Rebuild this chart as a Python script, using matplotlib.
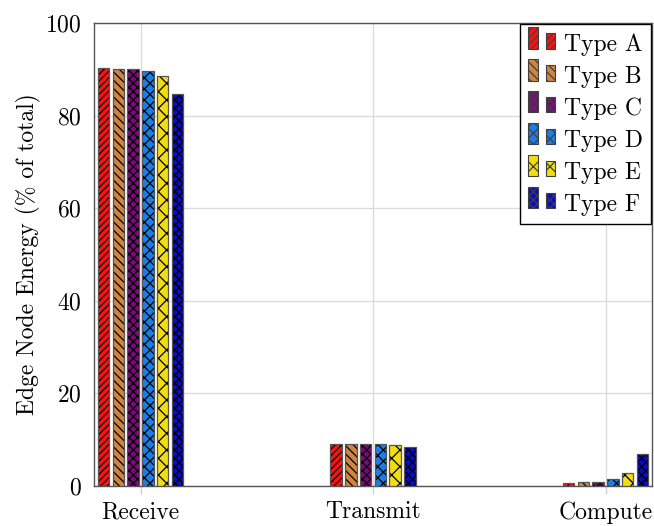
import numpy as np
import matplotlib
matplotlib.use('Agg')
import matplotlib.pyplot as plt
from matplotlib.patches import Rectangle

# energy share per stage, one list per node type
categories = ['Receive', 'Transmit', 'Compute']
types = ['Type A', 'Type B', 'Type C', 'Type D', 'Type E', 'Type F']
type_a = [90.3, 9.1, 0.7]
type_b = [90.1, 9.1, 0.9]
type_c = [90.0, 9.0, 0.9]
type_d = [89.7, 9.0, 1.5]
type_e = [88.5, 8.8, 2.8]
type_f = [84.6, 8.5, 7.0]
series = [type_a, type_b, type_c, type_d, type_e, type_f]

colors = ['#ff1010', '#cf8540', '#7a0a7a', '#1a7fe6', '#f2dc12', '#0a0ac8']
hatches = ['/////', '\\\\\\\\', 'xxxx', 'xxx', 'xx', 'xxxx']

plt.rcParams.update({
    'font.family': 'serif',
    'font.serif': ['cmr10'],
    'mathtext.fontset': 'cm',
    'axes.formatter.use_mathtext': True,
    'font.size': 17,
    'hatch.linewidth': 0.9,
    'hatch.color': 'black',
})


class TwoBars:
    """legend entry drawn as two little bars, like a ybar legend"""
    def __init__(self, color, hatch):
        self.color = color
        self.hatch = hatch

    def legend_artist(self, legend, orig_handle, fontsize, handlebox):
        x0, y0 = handlebox.xdescent, handlebox.ydescent
        w, h = handlebox.width, handlebox.height
        bw = w * 0.36
        tr = handlebox.get_transform()
        r1 = Rectangle((x0, y0), bw, h, facecolor=self.color, hatch=self.hatch,
                       edgecolor='#404040', linewidth=0.8, transform=tr)
        r2 = Rectangle((x0 + w - bw, y0), bw, h * 0.72, facecolor=self.color,
                       hatch=self.hatch, edgecolor='#404040', linewidth=0.8, transform=tr)
        handlebox.add_artist(r1)
        handlebox.add_artist(r2)
        return r1


fig = plt.figure(figsize=(6.54, 5.26), dpi=100)
ax = fig.add_axes([94/654, 1 - 486/526, (652 - 94)/654, (486 - 23)/526])

x = np.arange(len(categories))
slot = 0.0635
width = 0.05
handles = []
for i, (vals, c, h) in enumerate(zip(series, colors, hatches)):
    pos = x + (i - 2.5) * slot
    ax.bar(pos, vals, width, color=c, hatch=h, edgecolor='black', linewidth=0, zorder=3)
    ax.bar(pos, vals, width, fill=False, edgecolor='#555555', linewidth=0.9, zorder=4)
    handles.append(TwoBars(c, h))

ax.set_xlim(-0.2, 2.2)
ax.set_ylim(0, 100)
ax.set_xticks(x)
ax.set_xticklabels(categories)
ax.set_yticks(np.arange(0, 101, 20))
ax.tick_params(axis='y', length=0, pad=9)
ax.tick_params(axis='x', length=6, width=1, color='#d0d0d0', direction='out', pad=5)
ax.grid(True, color='#dcdcdc', linewidth=1.0, zorder=0)
ax.set_axisbelow(True)
for s in ax.spines.values():
    s.set_color('#555555')
    s.set_linewidth(1.0)
ax.set_ylabel('Edge Node Energy (% of total)', labelpad=3)

dummies = [Rectangle((0, 0), 1, 1) for _ in types]
leg = ax.legend(dummies, types, loc='upper right',
                handler_map={d: hb for d, hb in zip(dummies, handles)},
                handlelength=1.15, handleheight=1.0, handletextpad=0.35,
                labelspacing=0.35, borderaxespad=0.05, borderpad=0.35,
                fancybox=False, framealpha=1, edgecolor='black')
leg.get_frame().set_linewidth(1.0)

fig.savefig('out.png', dpi=100)
